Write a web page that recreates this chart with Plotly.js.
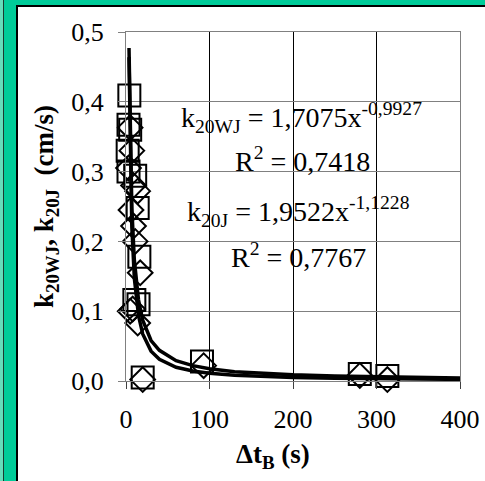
<!DOCTYPE html>
<html>
<head>
<meta charset="utf-8">
<script src="https://cdn.plot.ly/plotly-3.0.1.min.js"></script>
<style>
  html, body { margin: 0; padding: 0; width: 485px; height: 481px; overflow: hidden; background: #00CC99; }
  #strip { position: absolute; left: 0; top: 0; width: 3px; height: 481px; background: #66DDBB; }
  #dark { position: absolute; left: 3px; top: 0; width: 1px; height: 481px; background: #1a3a30; }
  #inner { position: absolute; left: 16px; top: 5px; width: 467px; height: 474px; background: #ffffff; border-left: 2px solid #000; border-top: 2px solid #000; }
  #chart { position: absolute; left: 0; top: 0; width: 485px; height: 481px; }
</style>
</head>
<body>
<div id="strip"></div>
<div id="dark"></div>
<div id="inner"></div>
<div id="chart"></div>
<script>
// Measured points: k20WJ (squares)
var wjX = [4, 3, 5, 2, 3, 11, 14, 16, 10, 15, 20, 91, 280, 313];
var wjY = [0.409, 0.367, 0.36, 0.33, 0.30, 0.294, 0.248, 0.178, 0.116, 0.11, 0.005, 0.028, 0.01, 0.007];
// Measured points: k20J (diamonds)
var jX = [5, 7, 3, 9, 14, 6, 9, 11, 17, 5, 8, 14, 20, 93, 280, 313];
var jY = [0.363, 0.33, 0.305, 0.28, 0.272, 0.245, 0.222, 0.2, 0.155, 0.1, 0.103, 0.083, 0.002, 0.022, 0.008, 0.002];
// Trendline curves
var fitX = [3.6, 5, 7, 10, 15, 20, 30, 40, 60, 80, 100, 130, 160, 200, 250, 300, 350, 400];
var fitWJ = [0.477, 0.345, 0.247, 0.173, 0.116, 0.087, 0.058, 0.044, 0.029, 0.022, 0.0175, 0.0134, 0.0109, 0.0088, 0.0070, 0.0059, 0.0050, 0.0044];
var fitJ = [0.464, 0.320, 0.220, 0.147, 0.0934, 0.0675, 0.0428, 0.0310, 0.0197, 0.0143, 0.0111, 0.0083, 0.0066, 0.0051, 0.0040, 0.0032, 0.0027, 0.0023];
var xTicks = [0, 100, 200, 300, 400];
var yTicks = [0, 0.1, 0.2, 0.3, 0.4, 0.5];

var FONT = 'Liberation Serif';

var traces = [
  { x: wjX, y: wjY, type: 'scatter', mode: 'markers', name: 'k20WJ', cliponaxis: false,
    marker: { symbol: 'square-open', size: 22, color: '#000', line: { width: 2, color: '#000' } } },
  { x: jX, y: jY, type: 'scatter', mode: 'markers', name: 'k20J', cliponaxis: false,
    marker: { symbol: 'diamond-open', size: 19, color: '#000', line: { width: 2, color: '#000' } } },
  { x: fitX, y: fitWJ, type: 'scatter', mode: 'lines', name: 'fit k20WJ', cliponaxis: false,
    line: { color: '#000', width: 3.5 } },
  { x: fitX, y: fitJ, type: 'scatter', mode: 'lines', name: 'fit k20J', cliponaxis: false,
    line: { color: '#000', width: 3.5 } }
];

var layout = {
  width: 485, height: 481,
  margin: { l: 126, r: 25, t: 32, b: 100, pad: 0 },
  paper_bgcolor: 'rgba(0,0,0,0)',
  plot_bgcolor: 'rgba(0,0,0,0)',
  separators: ',.',
  showlegend: false,
  font: { family: FONT, size: 26, color: '#000' },
  xaxis: {
    range: [0, 400], tickvals: xTicks, ticktext: xTicks.map(String),
    showgrid: true, gridcolor: '#000', gridwidth: 1, zeroline: false,
    showline: true, linecolor: '#808080', linewidth: 1, mirror: true,
    ticks: 'outside', ticklen: 7, tickcolor: '#404040', tickwidth: 1,
    tickfont: { family: FONT, size: 26, color: '#000' },
    ticklabelstandoff: 8
  },
  yaxis: {
    range: [0, 0.5], tickvals: yTicks, tickformat: '.1f',
    showgrid: true, gridcolor: '#808080', gridwidth: 1, zeroline: false,
    showline: true, linecolor: '#808080', linewidth: 1, mirror: true,
    ticks: 'outside', ticklen: 7, tickcolor: '#808080', tickwidth: 1,
    tickfont: { family: FONT, size: 26, color: '#000' },
    ticklabelstandoff: 9,
    title: { text: '<b>k<sub>20WJ</sub>, k<sub>20J</sub>  (cm/s)</b>', font: { family: FONT, size: 27, color: '#000' }, standoff: 9 }
  },
  annotations: [
    { x: 0.44, y: -0.215, xref: 'paper', yref: 'paper', xanchor: 'center', yanchor: 'middle', showarrow: false,
      text: '<b>Δt<sub>B</sub> (s)</b>', font: { family: FONT, size: 27, color: '#000' } },
    { x: 210, y: 0.377, xref: 'x', yref: 'y', showarrow: false,
      text: 'k<sub>20WJ</sub> = 1,7075x<sup>-0,9927</sup>', font: { family: FONT, size: 28, color: '#000' } },
    { x: 211, y: 0.318, xref: 'x', yref: 'y', showarrow: false,
      text: 'R<sup>2</sup> = 0,7418', font: { family: FONT, size: 28, color: '#000' } },
    { x: 206, y: 0.243, xref: 'x', yref: 'y', showarrow: false,
      text: 'k<sub>20J</sub> = 1,9522x<sup>-1,1228</sup>', font: { family: FONT, size: 28, color: '#000' } },
    { x: 206, y: 0.18, xref: 'x', yref: 'y', showarrow: false,
      text: 'R<sup>2</sup> = 0,7767', font: { family: FONT, size: 28, color: '#000' } }
  ]
};

Plotly.newPlot('chart', traces, layout, { displayModeBar: false, staticPlot: true });
</script>
</body>
</html>
